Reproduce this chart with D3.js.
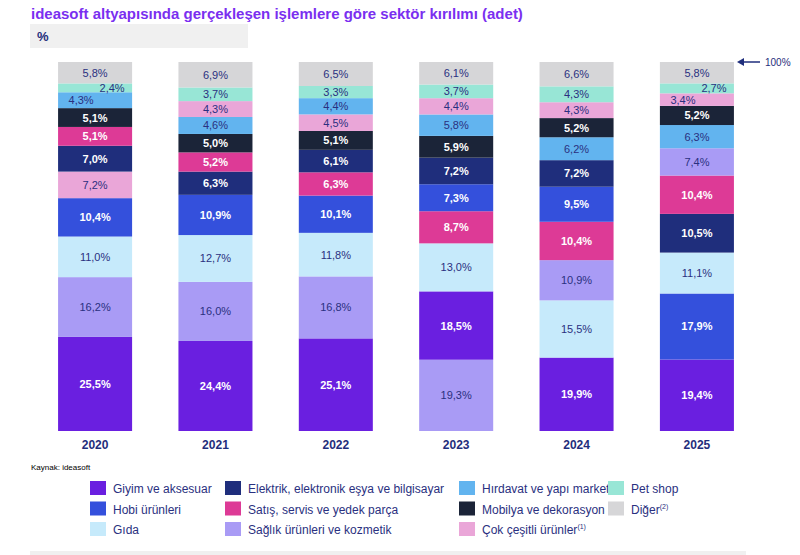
<!DOCTYPE html>
<html lang="en">
<head>
<meta charset="UTF-8">
<style>
  body { margin: 0; background: #fff; }
  svg { font-family: "Liberation Sans", Arial, sans-serif; }
</style>
</head>
<body>
<svg id="svg" width="800" height="555"></svg>
<script src="https://d3js.org/d3.v7.min.js"></script>
<script>
const years = ['2020', '2021', '2022', '2023', '2024', '2025']
const sectors = ['Giyim', 'Hobi', 'Gida', 'Elektrik', 'Satis', 'Saglik', 'Hirdavat', 'Mobilya', 'Cok', 'Pet', 'Diger']
const sectorNames = ['Giyim ve aksesuar', 'Hobi ürünleri', 'Gıda', 'Elektrik, elektronik eşya ve bilgisayar',
  'Satış, servis ve yedek parça', 'Sağlık ürünleri ve kozmetik', 'Hırdavat ve yapı market',
  'Mobilya ve dekorasyon', 'Çok çeşitli ürünler', 'Pet shop', 'Diğer']
const colors = ['#6a1fe0', '#3450dc', '#c6eafb', '#1f2e7c', '#dd3a96', '#a99bf5', '#62b4ef', '#1b2438', '#eaa6d8', '#98e6d6', '#d6d6d8']
const darkText = ['Giyim', 'Hobi', 'Elektrik', 'Satis', 'Mobilya']

// bottom -> top order per year, with values
const stack2020 = [['Giyim', 25.5], ['Saglik', 16.2], ['Gida', 11.0], ['Hobi', 10.4], ['Cok', 7.2], ['Elektrik', 7.0], ['Satis', 5.1], ['Mobilya', 5.1], ['Hirdavat', 4.3], ['Pet', 2.4], ['Diger', 5.8]]
const stack2021 = [['Giyim', 24.4], ['Saglik', 16.0], ['Gida', 12.7], ['Hobi', 10.9], ['Elektrik', 6.3], ['Satis', 5.2], ['Mobilya', 5.0], ['Hirdavat', 4.6], ['Cok', 4.3], ['Pet', 3.7], ['Diger', 6.9]]
const stack2022 = [['Giyim', 25.1], ['Saglik', 16.8], ['Gida', 11.8], ['Hobi', 10.1], ['Satis', 6.3], ['Elektrik', 6.1], ['Mobilya', 5.1], ['Cok', 4.5], ['Hirdavat', 4.4], ['Pet', 3.3], ['Diger', 6.5]]
const stack2023 = [['Saglik', 19.3], ['Giyim', 18.5], ['Gida', 13.0], ['Satis', 8.7], ['Hobi', 7.3], ['Elektrik', 7.2], ['Mobilya', 5.9], ['Hirdavat', 5.8], ['Cok', 4.4], ['Pet', 3.7], ['Diger', 6.1]]
const stack2024 = [['Giyim', 19.9], ['Gida', 15.5], ['Saglik', 10.9], ['Satis', 10.4], ['Hobi', 9.5], ['Elektrik', 7.2], ['Hirdavat', 6.2], ['Mobilya', 5.2], ['Cok', 4.3], ['Pet', 4.3], ['Diger', 6.6]]
const stack2025 = [['Giyim', 19.4], ['Hobi', 17.9], ['Gida', 11.1], ['Elektrik', 10.5], ['Satis', 10.4], ['Saglik', 7.4], ['Hirdavat', 6.3], ['Mobilya', 5.2], ['Cok', 3.4], ['Pet', 2.7], ['Diger', 5.8]]
const stacks = [stack2020, stack2021, stack2022, stack2023, stack2024, stack2025]

const svg = d3.select('#svg')
const color = d3.scaleOrdinal().domain(sectors).range(colors)

// title + unit band
svg.append('text').attr('x', 31).attr('y', 19).attr('fill', '#7a2ff0')
  .attr('font-size', 15).attr('font-weight', 'bold')
  .text('ideasoft altyapısında gerçekleşen işlemlere göre sektör kırılımı (adet)')
svg.append('rect').attr('x', 30).attr('y', 24).attr('width', 218).attr('height', 24).attr('fill', '#f0f0f0')
svg.append('text').attr('x', 37).attr('y', 41).attr('fill', '#1f2e7c').attr('font-size', 13).attr('font-weight', 'bold').text('%')

const x = d3.scaleBand().domain(years).range([34, 758]).paddingInner(0.385).paddingOuter(0.2)
const y = d3.scaleLinear().domain([0, 100]).range([431, 62])

years.forEach((yr, i) => {
  const st = stacks[i]
  const total = d3.sum(st, d => d[1])
  let acc = 0
  const segs = st.map(([k, v]) => {
    const s = { k, v, y0: acc / total * 100, y1: (acc + v) / total * 100 }
    acc += v
    return s
  })
  const g = svg.append('g')
  g.selectAll('rect').data(segs).enter().append('rect')
    .attr('x', x(yr)).attr('width', x.bandwidth())
    .attr('y', d => y(d.y1)).attr('height', d => y(d.y0) - y(d.y1))
    .attr('fill', d => color(d.k))
  g.selectAll('text').data(segs).enter().append('text')
    .attr('x', (d, j) => {
      let cx = x(yr) + x.bandwidth() / 2
      if (d.v < 3) cx += 17
      else if (segs[j + 1] && segs[j + 1].v < 3 && d.v < 5) cx -= 14
      return cx
    })
    .attr('y', d => (y(d.y0) + y(d.y1)) / 2 + 4)
    .attr('text-anchor', 'middle').attr('font-size', 11)
    .attr('font-weight', d => darkText.includes(d.k) ? 'bold' : 'normal')
    .attr('fill', d => darkText.includes(d.k) ? '#fff' : '#2a3080')
    .text(d => d.v.toFixed(1).replace('.', ',') + '%')
})

const xAxis = svg.append('g').attr('transform', 'translate(0,431)')
  .call(d3.axisBottom(x).tickSize(0).tickPadding(9))
xAxis.select('.domain').remove()
xAxis.selectAll('text').attr('font-size', 12).attr('font-weight', 'bold').attr('fill', '#1f2e7c')
  .attr('font-family', '"Liberation Sans", Arial, sans-serif')

// 100% marker
svg.append('line').attr('x1', 742).attr('x2', 760).attr('y1', y(100)).attr('y2', y(100)).attr('stroke', '#1f2e7c').attr('stroke-width', 1.5)
svg.append('path').attr('d', `M737,${y(100)} l7,-4 l0,8 z`).attr('fill', '#1f2e7c')
svg.append('text').attr('x', 765).attr('y', y(100) + 4).attr('font-size', 10).attr('fill', '#1f2e7c').text('100%')

svg.append('text').attr('x', 31).attr('y', 470).attr('font-size', 8).attr('fill', '#000').text('Kaynak: ideasoft')

// legend
const legendOrder = [0, 1, 2, 3, 4, 5, 6, 7, 8, 9, 10]
const colX = [90, 225, 459, 608]
const colOf = [0, 0, 0, 1, 1, 1, 2, 2, 2, 3, 3]
const rowOf = [0, 1, 2, 0, 1, 2, 0, 1, 2, 0, 1]
const leg = svg.append('g')
legendOrder.forEach(i => {
  const lx = colX[colOf[i]], ly = 481 + rowOf[i] * 20.5
  leg.append('rect').attr('x', lx).attr('y', ly).attr('width', 16).attr('height', 14).attr('fill', colors[i])
  const t = leg.append('text').attr('x', lx + 23).attr('y', ly + 12).attr('font-size', 12).attr('fill', '#2a3080')
    .text(sectorNames[i])
  if (i === 8) t.append('tspan').attr('font-size', 7).attr('dy', -5).text('(1)')
  if (i === 10) t.append('tspan').attr('font-size', 7).attr('dy', -5).text('(2)')
})
svg.append('rect').attr('x', 30).attr('y', 551).attr('width', 716).attr('height', 4).attr('fill', '#f0f0f0')
</script>
</body>
</html>
